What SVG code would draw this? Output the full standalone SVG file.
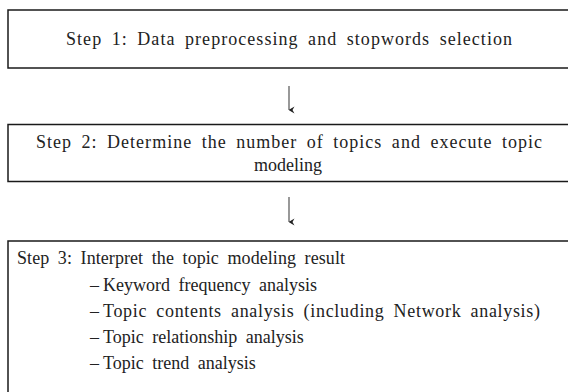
<svg xmlns="http://www.w3.org/2000/svg" width="568" height="392" viewBox="0 0 568 392">
  <defs>
    <style>
      .box { fill: #ffffff; stroke: #1a1a1a; stroke-width: 1.5; }
      .txt { font-family: "Liberation Serif", "DejaVu Serif", serif; font-size: 18px; fill: #222222; word-spacing: 4px; }
      .flow { stroke: #444444; stroke-width: 1.1; fill: none; }
    </style>
    <marker id="tip" viewBox="0 0 8 8" refX="4" refY="7.5" markerWidth="8" markerHeight="8" markerUnits="userSpaceOnUse" orient="auto-start-reverse">
      <path d="M0.5,2 L4,8 L7.5,2 L4,4 Z" fill="#222222"/>
    </marker>
  </defs>
  <rect width="568" height="392" fill="#ffffff"/>

  <g id="step1">
    <rect class="box" x="8" y="10" width="580" height="58"/>
    <text class="txt" x="66" y="45" textLength="446" lengthAdjust="spacing">Step 1: Data preprocessing and stopwords selection</text>
  </g>

  <g id="step2">
    <rect class="box" x="8" y="124.5" width="580" height="57"/>
    <text class="txt" x="36" y="148" textLength="506" lengthAdjust="spacing">Step 2: Determine the number of topics and execute topic</text>
    <text class="txt" x="288" y="171" text-anchor="middle">modeling</text>
  </g>

  <g id="step3">
    <rect class="box" x="8" y="241" width="580" height="170"/>
    <text class="txt" x="17" y="264" textLength="328" lengthAdjust="spacing">Step 3: Interpret the topic modeling result</text>
    <!-- bullet items: dash sits close to the first word -->
    <text class="txt" x="90" y="291">–<tspan x="103">Keyword frequency analysis</tspan></text>
    <text class="txt" x="90" y="317">–<tspan x="103" textLength="437" lengthAdjust="spacing">Topic contents analysis (including Network analysis)</tspan></text>
    <text class="txt" x="90" y="343">–<tspan x="103">Topic relationship analysis</tspan></text>
    <text class="txt" x="90" y="369">–<tspan x="103">Topic trend analysis</tspan></text>
  </g>

  <g id="connectors">
    <path class="flow" d="M289,86 L289,110" marker-end="url(#tip)"/>
    <path class="flow" d="M289,197 L289,222" marker-end="url(#tip)"/>
  </g>
</svg>
